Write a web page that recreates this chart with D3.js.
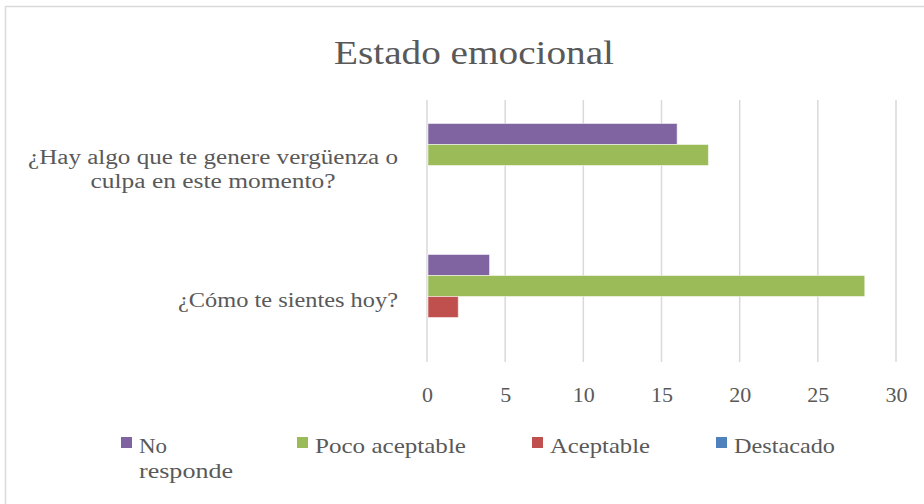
<!DOCTYPE html>
<html><head><meta charset="utf-8">
<script src="https://cdn.jsdelivr.net/npm/d3@7"></script>
<style>body{margin:0;background:#fff}svg{display:block}text{font-family:"Liberation Serif","DejaVu Serif",serif;fill:#595959}</style>
</head><body><svg id="c" width="924" height="504"></svg>
<script>
const categories = ["¿Hay algo que te genere vergüenza o culpa en este momento?", "¿Cómo te sientes hoy?"];
const categoryLines = [["¿Hay algo que te genere vergüenza o", "culpa en este momento?"], ["¿Cómo te sientes hoy?"]];
const seriesNames = ["No responde", "Poco aceptable", "Aceptable", "Destacado"];
const legendLines = [["No", "responde"], ["Poco aceptable"], ["Aceptable"], ["Destacado"]];
const noResponde = [16, 4];
const pocoAceptable = [18, 28];
const aceptable = [0, 2];
const destacado = [0, 0];
const tickValues = [0, 5, 10, 15, 20, 25, 30];
const colors = ["#8064A2", "#9BBB59", "#C0504D", "#4F81BD"];
const seriesValues = [noResponde, pocoAceptable, aceptable, destacado];

const svg = d3.select("#c");
svg.append("rect").attr("x",5.5).attr("y",6.5).attr("width",940).attr("height",520)
  .attr("fill","#fff").attr("stroke","#d9d9d9").attr("stroke-width",1.5);

svg.append("text").attr("x",474).attr("y",64).attr("text-anchor","middle")
  .attr("font-size",34).attr("textLength",280).attr("lengthAdjust","spacingAndGlyphs")
  .text("Estado emocional");

const x = d3.scaleLinear().domain([0,30]).range([427,896]);
const y0 = d3.scaleBand().domain(categories).range([100,362]);
const y1 = d3.scaleBand().domain(seriesNames).range([0, 84]);

// gridlines
svg.append("g").selectAll("line").data(tickValues).join("line")
  .attr("x1",d=>x(d)).attr("x2",d=>x(d)).attr("y1",100).attr("y2",362)
  .attr("stroke","#d9d9d9").attr("stroke-width",1.5);

// bars
const groups = svg.append("g").selectAll("g").data(categories).join("g")
  .attr("transform",c=>`translate(0,${y0(c)+(y0.bandwidth()-84)/2})`);
groups.selectAll("rect").data((c,i)=>seriesNames.map((s,j)=>({s,j,v:seriesValues[j][i]})))
  .join("rect")
  .attr("x",x(0)+1).attr("y",d=>y1(d.s))
  .attr("width",d=>Math.max(0,x(d.v)-x(0)-1)).attr("height",y1.bandwidth())
  .attr("fill",d=>colors[d.j])
  .attr("stroke",d=>d.v>0?"#fff":"none").attr("stroke-opacity",0.5).attr("stroke-width",1);

// axis tick labels
const axis = d3.axisBottom(x).tickValues(tickValues).tickSize(0).tickPadding(0);
const ag = svg.append("g").attr("transform","translate(0,402)").call(axis);
ag.select(".domain").remove();
ag.selectAll("text").attr("font-size",22).attr("fill","#595959").attr("y",0).attr("dy",0)
  .style("font-family",'"Liberation Serif",serif');

// category labels (centered block, right edge at 398)
const catWidths = [[370, 245], [220]];
categories.forEach((c,i)=>{
  const lines = categoryLines[i];
  const cy = y0(c)+y0.bandwidth()/2;
  const lh = 23.5;
  const blockW = d3.max(catWidths[i]);
  const cx = 398 - blockW/2;
  const fs = lines.length > 1 ? 20.5 : 22;
  lines.forEach((l,k)=>{
    svg.append("text").attr("font-size",fs).attr("text-anchor","middle")
      .attr("x",cx).attr("y",cy+10.5+(k-(lines.length-1)/2)*lh)
      .attr("textLength",catWidths[i][k]).attr("lengthAdjust","spacingAndGlyphs").text(l);
  });
});

// legend
const legX = [121, 297, 532, 716];
const legW = [[28, 94], [151], [100], [101]];
const leg = svg.append("g");
seriesNames.forEach((s,j)=>{
  leg.append("rect").attr("x",legX[j]).attr("y",437).attr("width",11).attr("height",11).attr("fill",colors[j]);
  legendLines[j].forEach((l,k)=>{
    leg.append("text").attr("font-size",21).attr("x",legX[j]+18).attr("y",453+k*25)
      .attr("textLength",legW[j][k]).attr("lengthAdjust","spacingAndGlyphs").text(l);
  });
});
</script></body></html>
